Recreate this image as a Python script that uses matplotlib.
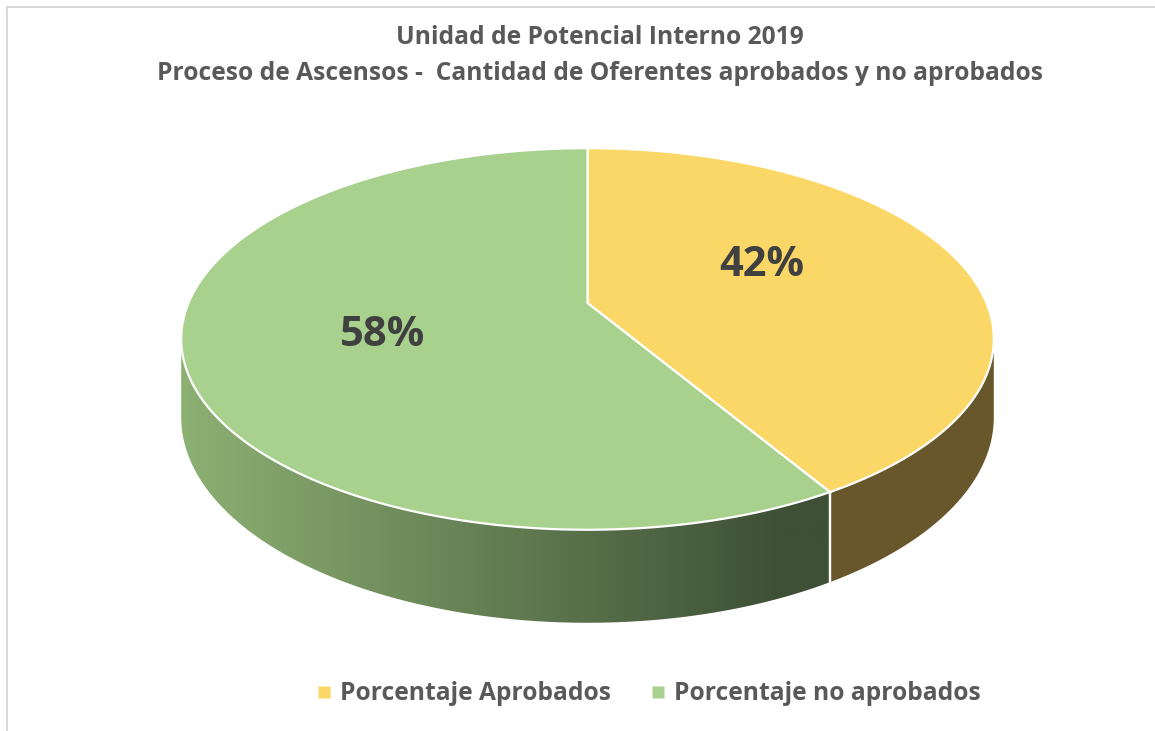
import numpy as np
import matplotlib
matplotlib.use("Agg")
import matplotlib.pyplot as plt
from matplotlib.patches import Polygon
from matplotlib.lines import Line2D
from matplotlib.colors import to_rgb

plt.rcParams["font.family"] = ["Open Sans", "DejaVu Sans"]

# data
categories = ["Porcentaje Aprobados", "Porcentaje no aprobados"]
shares = [41.5, 58.5]
topColors = ["#FAD766", "#A9D18E"]
sideColors = ["#68572A", None]           # green side uses a gradient
GRADIENT = ("#8DB073", "#3E5036")
titleLines = ["Unidad de Potencial Interno 2019",
              "Proceso de Ascensos -  Cantidad de Oferentes aprobados y no aprobados"]

# pie geometry in pixel space (perspective view of a flat cylinder)
W, H = 1155, 731
CX, CY = 587.5, 303.0
A, B = 399.0, 184.0
K = 0.1885
DZ = 75.5
TEXT = "#595959"


def project(phi, r=1.0, drop=0.0):
    phi = np.radians(phi)
    u = r * np.sin(phi)
    v = r * np.cos(phi)
    w = 1 + K * v
    return CX + A * u / w, CY - B * v / w + drop / w


fig = plt.figure(figsize=(W / 100, H / 100), dpi=100)
ax = fig.add_axes([0, 0, 1, 1])
ax.set_xlim(0, W)
ax.set_ylim(H, 0)
ax.axis("off")

# slice angles, clockwise from 12 o'clock
total = sum(shares)
edges = np.concatenate([[0], np.cumsum(shares) / total * 360])
visLeft = 360 - np.degrees(np.arccos(-K))
visRight = np.degrees(np.arccos(-K))

# side walls
for i in range(len(shares)):
    a0, a1 = max(edges[i], visRight), min(edges[i + 1], visLeft)
    if a1 <= a0:
        continue
    phis = np.linspace(a0, a1, 200)
    tx, ty = project(phis)
    bx, by = project(phis, drop=DZ)
    pts = np.column_stack([np.r_[tx, bx[::-1]], np.r_[ty, by[::-1]]])
    if sideColors[i] is not None:
        ax.add_patch(Polygon(pts, closed=True, facecolor=sideColors[i], edgecolor="none", zorder=1))
    else:
        patch = Polygon(pts, closed=True, facecolor="none", edgecolor="none", zorder=1)
        ax.add_patch(patch)
        x0, x1 = pts[:, 0].min(), pts[:, 0].max()
        xs = np.linspace(x0, x1, 400)
        t = np.clip((xs - x0) / (x1 - x0 - 50), 0, 1)
        c0, c1 = np.array(to_rgb(GRADIENT[0])), np.array(to_rgb(GRADIENT[1]))
        grad = (c0[None, :] * (1 - t[:, None]) + c1[None, :] * t[:, None])[None, :, :]
        im = ax.imshow(grad, extent=(x0, x1, pts[:, 1].max(), pts[:, 1].min()),
                       aspect="auto", zorder=1, interpolation="bilinear")
        im.set_clip_path(patch)
    # white divider between wall segments
    for a in (a0, a1):
        if np.any(np.isclose(a, edges[1:-1])):
            px0, py0 = project(a)
            px1, py1 = project(a, drop=DZ)
            ax.plot([px0, px1], [py0, py1], color="white", lw=1.6, zorder=2)

# top faces
for i in range(len(shares)):
    phis = np.linspace(edges[i], edges[i + 1], 300)
    x, y = project(phis)
    pts = np.column_stack([np.r_[CX, x], np.r_[CY, y]])
    ax.add_patch(Polygon(pts, closed=True, facecolor=topColors[i], edgecolor="white",
                         lw=1.6, joinstyle="miter", zorder=3))

# percentage labels
labelPos = [(762, 266), (383, 336)]
for share, (lx, ly) in zip(shares, labelPos):
    ax.text(lx, ly, f"{share / total * 100:.0f}%", ha="center", va="center",
            fontsize=30, fontweight="bold", color="#404040", zorder=5)

# title
ax.text(600, 37, titleLines[0], ha="center", va="center", fontsize=17.7,
        fontweight="bold", color=TEXT)
ax.text(600, 74, titleLines[1], ha="center", va="center", fontsize=17.7,
        fontweight="bold", color=TEXT)

# legend
handles = [Line2D([], [], marker="s", linestyle="none", markersize=8,
                  markerfacecolor=c, markeredgecolor="none") for c in topColors]
ax.legend(handles, categories, loc="center", bbox_to_anchor=(649 / W, 1 - 694 / H),
          ncol=2, frameon=False, handlelength=0.6, handletextpad=0.35, columnspacing=1.6,
          prop={"size": 17.7, "weight": "bold"}, labelcolor=TEXT)

# chart frame (left and top visible)
ax.plot([7, 7], [7, H], color="#D9D9D9", lw=1.5, zorder=0)
ax.plot([7, W], [7, 7], color="#D9D9D9", lw=1.5, zorder=0)

ax.set_xlim(0, W)
ax.set_ylim(H, 0)
fig.savefig("out.png", dpi=100)
